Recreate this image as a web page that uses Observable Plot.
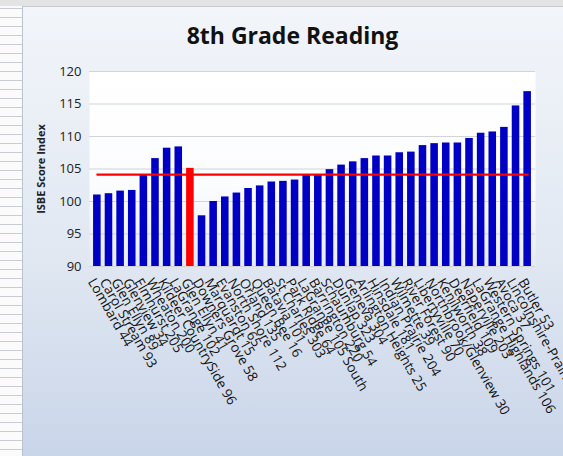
<!DOCTYPE html>
<html><head><meta charset="utf-8">
<script src="https://cdn.jsdelivr.net/npm/d3@7"></script>
<script src="https://cdn.jsdelivr.net/npm/@observablehq/plot@0.6"></script>
<style>
html,body{margin:0;padding:0;}
body{width:563px;height:456px;overflow:hidden;background:#fff;position:relative;font-family:"Open Sans",sans-serif;}
#sheet{position:absolute;left:0;top:0;width:22px;height:456px;background:repeating-linear-gradient(to bottom,#fbfbfb 0,#fbfbfb 8px,#c9ccd2 8px,#c9ccd2 9px);}
#topbar{position:absolute;left:0;top:0;width:563px;height:6px;background:#e3e3e3;}
#chart{position:absolute;left:22px;top:6px;width:541px;height:450px;background:linear-gradient(to bottom,#f2f5fa 0%,#e1e8f2 55%,#c9d5e9 100%);border-left:1px solid #b9c2cf;border-top:1px solid #c9c9c9;box-sizing:border-box;}
#title{position:absolute;left:22px;top:20px;width:541px;text-align:center;font:bold 23px "Open Sans",sans-serif;color:#111;line-height:30px;}
#plot{position:absolute;left:0;top:50px;}
</style>
</head><body>
<div id="sheet"></div><div id="topbar"></div><div id="chart"></div>
<div id="title">8th Grade Reading</div>
<div id="plot"></div>
<script>
const districts = ["Lombard 44","Carol Stream 93","Glen Ellyn 89","Glenview 34","Elmhurst 205","Wheaton 200","Kildeer CountrySide 96","LaGrange 102","Glen Ellyn 41","Downers Grove 58","Marquardt 15","Evanston 65","North Shore 112","Orland 135","Queen Bee 16","Batavia 101","St Charles 303","Park Ridge 64","LaGrange 105 South","Barrington 220","Schaumburg 54","Dunlap 323","Geneva 304","Arlington Heights 25","Hinsdale 181","Indian Prairie 204","Wilmette 39","River Forest 90","Libertyville 70","Northbrook/Glenview 30","Kenilworth 38","Deerfield 109","Naperville 203","LaGrange Highlands 106","Western Springs 101","Avoca 37","Lincolnshire-Prairie View 103","Butler 53"];
const scores = [101.0,101.2,101.6,101.7,104.1,106.6,108.2,108.4,105.1,97.8,100.0,100.7,101.3,102.0,102.4,103.0,103.1,103.3,104.1,104.1,104.9,105.6,106.1,106.6,107.0,107.0,107.5,107.6,108.6,108.9,109.0,109.0,109.7,110.5,110.7,111.4,114.7,116.9];
const highlight = "Glen Ellyn 41";
const stateAverage = 104.15;
const yTicks = [90,95,100,105,110,115,120];

const data = districts.map((d, i) => ({name: d, score: scores[i], color: d === highlight ? "#ff0000" : "#0000c4"}));

const chart = Plot.plot({
  width: 563,
  height: 406,
  marginLeft: 89,
  marginRight: 28,
  marginTop: 21,
  marginBottom: 190,
  style: {background: "transparent", fontFamily: "Open Sans, sans-serif", color: "#222"},
  x: {type: "band", domain: districts, padding: 0.35, round: false},
  y: {domain: [90, 120], ticks: yTicks},
  color: {type: "identity"},
  marks: [
    Plot.frame({fill: "url(#plotArea)", stroke: "none"}),
    Plot.gridY(yTicks, {stroke: "#d4d4d4", strokeOpacity: 1, strokeWidth: 1.2}),
    Plot.barY(data, {x: "name", y1: 90, y2: "score", fill: "color"}),
    Plot.lineY(districts, {x: d => d, y: () => stateAverage, stroke: "#ff0000", strokeWidth: 2.2}),
    Plot.axisY(yTicks, {tickSize: 0, tickPadding: 8, fontSize: 13, label: "ISBE Score Index", labelAnchor: "center", labelArrow: "none", labelOffset: 52, fill: "#222"}),
    Plot.axisX({tickRotate: 60, tickSize: 0, tickPadding: 3, fontSize: 13.5, label: null, fill: "#111"})
  ]
});

const defs = document.createElementNS("http://www.w3.org/2000/svg", "defs");
defs.innerHTML = '<linearGradient id="plotArea" x1="0" y1="0" x2="0" y2="1"><stop offset="0" stop-color="#ffffff"/><stop offset="0.6" stop-color="#fbfcfe"/><stop offset="1" stop-color="#e6ecf5"/></linearGradient>';
chart.insertBefore(defs, chart.firstChild);
chart.querySelectorAll('[aria-label="y-axis label"] text, [aria-label="y-axis label"]').forEach(e => { e.setAttribute("font-weight", "bold"); e.style.fontSize = "11px"; });
const xt = chart.querySelector('[aria-label="x-axis tick label"]');
if (xt) {
  const wrap = document.createElementNS("http://www.w3.org/2000/svg", "g");
  wrap.setAttribute("transform", "translate(-6,10)");
  xt.parentNode.insertBefore(wrap, xt);
  wrap.appendChild(xt);
}
document.getElementById("plot").appendChild(chart);
</script>
</body></html>
